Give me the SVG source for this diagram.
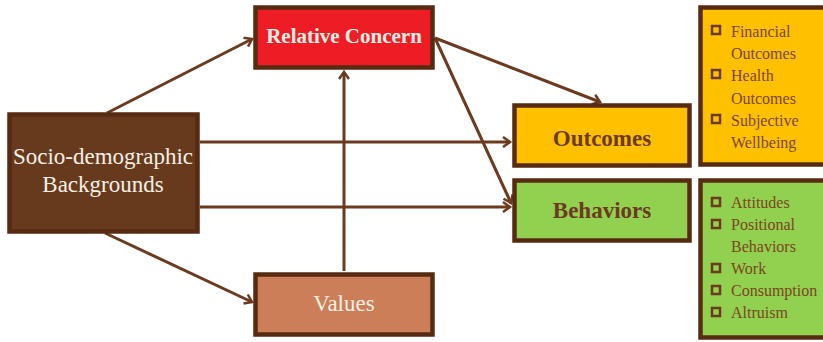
<svg xmlns="http://www.w3.org/2000/svg" width="823" height="342" viewBox="0 0 823 342">
<defs>
<marker id="ah" markerWidth="12" markerHeight="12" refX="9" refY="6" orient="auto" markerUnits="userSpaceOnUse">
<path d="M2,1 L9,6 L2,11" fill="none" stroke="#6B3A1F" stroke-width="2.5"/>
</marker>
<style>
.box{stroke:#562B12;stroke-width:4.5}
.conn{stroke:#6B3A1F;stroke-width:3;fill:none;marker-end:url(#ah)}
text{font-family:"Liberation Serif","DejaVu Serif",serif}
.t{text-anchor:middle}
.lt{fill:#F7F0E4}
.dk{fill:#6B3A1F}
.li{font-size:16px;fill:#7A4620}
.cb{fill:none;stroke:#6B3A1F;stroke-width:2.5}
</style>
</defs>
<rect width="823" height="342" fill="#fff"/>
<g id="connectors">
<line class="conn" x1="107" y1="113" x2="252" y2="39"/>
<line class="conn" x1="200" y1="142" x2="510" y2="142"/>
<line class="conn" x1="200" y1="207" x2="510" y2="207"/>
<line class="conn" x1="105" y1="233" x2="252" y2="302"/>
<line class="conn" x1="344" y1="271" x2="344" y2="72"/>
<line class="conn" x1="435" y1="38" x2="600" y2="102"/>
<line class="conn" x1="435" y1="38" x2="511" y2="203"/>
</g>
<g id="socio">
<rect class="box" x="9.5" y="114.5" width="188" height="117" fill="#673A1E"/>
<text class="t lt" x="103" y="164" font-size="23" font-family="Liberation Serif, serif">Socio-demographic</text>
<text class="t lt" x="103" y="192" font-size="23" font-family="Liberation Serif, serif">Backgrounds</text>
</g>
<g id="relative">
<rect class="box" x="255.5" y="7.5" width="177" height="60" fill="#EE1C24"/>
<text class="t lt" x="344" y="43" font-size="21" font-weight="bold">Relative Concern</text>
</g>
<g id="values">
<rect class="box" x="255.5" y="274.5" width="177" height="60" fill="#CB7E57"/>
<text class="t lt" x="344" y="311" font-size="23" font-family="Liberation Serif, serif">Values</text>
</g>
<g id="outcomes">
<rect class="box" x="514.5" y="105.5" width="175" height="60" fill="#FFC000"/>
<text class="t dk" x="602" y="146" font-size="23" font-weight="bold">Outcomes</text>
</g>
<g id="behaviors">
<rect class="box" x="514.5" y="180.5" width="175" height="60" fill="#92D050"/>
<text class="t dk" x="602" y="218" font-size="23" font-weight="bold">Behaviors</text>
</g>
<g id="outcomes-list">
<rect class="box" x="700.5" y="7.5" width="130" height="157" fill="#FFC000"/>
<rect class="cb" x="712" y="26" width="8" height="8"/>
<text class="li" x="731" y="37">Financial</text>
<text class="li" x="731" y="59">Outcomes</text>
<rect class="cb" x="712" y="70" width="8" height="8"/>
<text class="li" x="731" y="81">Health</text>
<text class="li" x="731" y="104">Outcomes</text>
<rect class="cb" x="712" y="115" width="8" height="8"/>
<text class="li" x="731" y="126">Subjective</text>
<text class="li" x="731" y="148">Wellbeing</text>
</g>
<g id="behaviors-list">
<rect class="box" x="700.5" y="180.5" width="130" height="157" fill="#92D050"/>
<rect class="cb" x="712" y="198" width="8" height="8"/>
<text class="li" x="731" y="208">Attitudes</text>
<rect class="cb" x="712" y="220" width="8" height="8"/>
<text class="li" x="731" y="230">Positional</text>
<text class="li" x="731" y="252">Behaviors</text>
<rect class="cb" x="712" y="264" width="8" height="8"/>
<text class="li" x="731" y="274">Work</text>
<rect class="cb" x="712" y="286" width="8" height="8"/>
<text class="li" x="731" y="296">Consumption</text>
<rect class="cb" x="712" y="308" width="8" height="8"/>
<text class="li" x="731" y="318">Altruism</text>
</g>
</svg>
